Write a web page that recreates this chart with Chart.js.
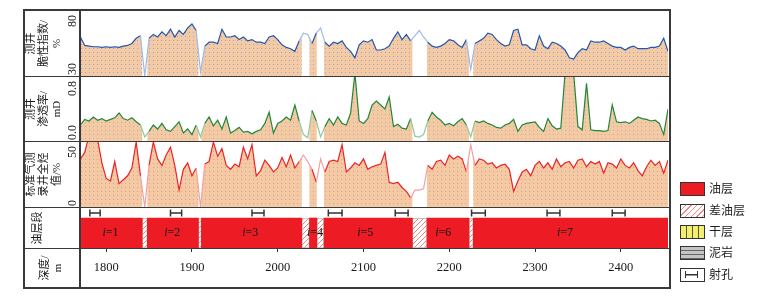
<!DOCTYPE html>
<html>
<head>
<meta charset="utf-8">
<script src="https://cdn.jsdelivr.net/npm/chart.js@4.4.0/dist/chart.umd.min.js"></script>
<style>
body { margin: 0; background: #fff; }
#wrap { position: relative; width: 768px; height: 297px; overflow: hidden; font-family: 'Liberation Serif', 'Noto Sans CJK SC', serif; }
canvas { position: absolute; left: 24px; }
.ln { position: absolute; background: #3a3a3a; }
.lg { position: absolute; left: 680px; width: 25px; height: 14px; border: 1.5px solid #333; box-sizing: border-box; }
.lt { position: absolute; left: 709px; font-size: 12px; line-height: 14px; color: #222; }
</style>
</head>
<body>
<div id="wrap">
  <canvas id="brittle" width="644" height="65" style="top:11px"></canvas>
  <canvas id="perm" width="644" height="64" style="top:77px"></canvas>
  <canvas id="gas" width="644" height="65" style="top:142px"></canvas>
  <canvas id="layers" width="644" height="80" style="top:208px"></canvas>

  <div class="ln" style="left:23px;top:9px;width:648px;height:2px"></div>
  <div class="ln" style="left:23px;top:287px;width:648px;height:2px"></div>
  <div class="ln" style="left:23px;top:9px;width:2px;height:280px"></div>
  <div class="ln" style="left:669px;top:9px;width:2px;height:280px"></div>
  <div class="ln" style="left:79px;top:9px;width:1.5px;height:280px"></div>
  <div class="ln" style="left:23px;top:75.5px;width:648px;height:1.5px"></div>
  <div class="ln" style="left:23px;top:140.5px;width:648px;height:1.5px"></div>
  <div class="ln" style="left:23px;top:206.5px;width:648px;height:1.5px"></div>
  <div class="ln" style="left:23px;top:247.5px;width:648px;height:1.5px"></div>

  <div class="lg" style="top:182px;background:#ed1c24"></div>
  <div class="lt" style="top:182px">油层</div>
  <div class="lg" style="top:204px;background:repeating-linear-gradient(135deg,#fff 0 3px,#f08a8a 3px 4px)"></div>
  <div class="lt" style="top:204px">差油层</div>
  <div class="lg" style="top:225px;background:repeating-linear-gradient(90deg,#f3ee6c 0 5px,#555 5px 6px)"></div>
  <div class="lt" style="top:225px">干层</div>
  <div class="lg" style="top:246px;background:repeating-linear-gradient(180deg,#c4c4c4 0 3px,#666 3px 4px)"></div>
  <div class="lt" style="top:246px">泥岩</div>
  <div class="lg" style="top:268px;background:#fff">
    <div style="position:absolute;left:4px;top:2px;width:11px;height:7px;border-left:1.5px solid #333;border-right:1.5px solid #333;background:linear-gradient(#333,#333) center/100% 1.5px no-repeat"></div>
  </div>
  <div class="lt" style="top:268px">射孔</div>
</div>

<script>
// depth samples (m), every 5 m
const depths = [
  1770, 1775, 1780, 1785, 1790, 1795, 1800, 1805, 1810, 1815,
  1820, 1825, 1830, 1835, 1840, 1845, 1850, 1855, 1860, 1865,
  1870, 1875, 1880, 1885, 1890, 1895, 1900, 1905, 1910, 1915,
  1920, 1925, 1930, 1935, 1940, 1945, 1950, 1955, 1960, 1965,
  1970, 1975, 1980, 1985, 1990, 1995, 2000, 2005, 2010, 2015,
  2020, 2025, 2030, 2035, 2040, 2045, 2050, 2055, 2060, 2065,
  2070, 2075, 2080, 2085, 2090, 2095, 2100, 2105, 2110, 2115,
  2120, 2125, 2130, 2135, 2140, 2145, 2150, 2155, 2160, 2165,
  2170, 2175, 2180, 2185, 2190, 2195, 2200, 2205, 2210, 2215,
  2220, 2225, 2230, 2235, 2240, 2245, 2250, 2255, 2260, 2265,
  2270, 2275, 2280, 2285, 2290, 2295, 2300, 2305, 2310, 2315,
  2320, 2325, 2330, 2335, 2340, 2345, 2350, 2355, 2360, 2365,
  2370, 2375, 2380, 2385, 2390, 2395, 2400, 2405, 2410, 2415,
  2420, 2425, 2430, 2435, 2440, 2445, 2450, 2455
];

// 测井脆性指数 (%)
const brittleness = [
  60, 53.5, 53, 52.5, 52.5, 52, 52.5, 52, 52.5, 52,
  53, 53.5, 55, 59, 61, 30, 59, 62, 60, 64,
  61, 66, 60, 65, 62, 67, 70, 65, 33, 53,
  56, 56, 55, 66, 60, 60, 61, 58, 60, 57,
  58, 56, 56, 55, 60, 61, 58, 54, 52, 51,
  49, 57, 63, 62, 55, 63, 67, 56, 53, 56,
  55, 57, 52, 49, 44, 54, 57, 56, 58, 50,
  50, 51, 53, 59, 64, 58, 62, 57, 61, 65,
  60, 56, 53, 52, 53, 55, 58, 57, 54, 52,
  58, 35, 55, 57, 59, 63, 62, 58, 55, 53,
  54, 65, 66, 54, 54, 51, 50, 61, 53, 51,
  56, 55, 53, 50, 44, 43, 48, 51, 50, 57,
  56, 56, 57, 55, 53, 52, 52, 50, 52, 53,
  51, 51, 51, 52, 52, 53, 59, 49
];

// 测井渗透率 (mD)
const permeability = [
  0.20, 0.27, 0.25, 0.30, 0.26, 0.28, 0.25, 0.27, 0.29, 0.35,
  0.28, 0.26, 0.29, 0.24, 0.20, 0.05, 0.12, 0.20, 0.15, 0.22,
  0.14, 0.12, 0.18, 0.24, 0.10, 0.15, 0.08, 0.20, 0.05, 0.22,
  0.30, 0.19, 0.26, 0.15, 0.30, 0.10, 0.13, 0.17, 0.11, 0.12,
  0.09, 0.12, 0.14, 0.22, 0.36, 0.10, 0.22, 0.25, 0.30, 0.26,
  0.45, 0.25, 0.08, 0.04, 0.38, 0.25, 0.05, 0.18, 0.28, 0.20,
  0.30, 0.22, 0.20, 0.35, 0.85, 0.25, 0.22, 0.28, 0.45, 0.50,
  0.45, 0.40, 0.55, 0.18, 0.21, 0.16, 0.15, 0.28, 0.06, 0.05,
  0.08, 0.25, 0.36, 0.30, 0.26, 0.20, 0.22, 0.19, 0.24, 0.28,
  0.20, 0.05, 0.25, 0.23, 0.25, 0.22, 0.20, 0.17, 0.16, 0.20,
  0.22, 0.27, 0.12, 0.20, 0.22, 0.23, 0.24, 0.17, 0.12, 0.28,
  0.19, 0.15, 0.16, 0.85, 0.85, 0.85, 0.18, 0.14, 0.72, 0.14,
  0.13, 0.13, 0.12, 0.13, 0.45, 0.24, 0.23, 0.24, 0.22, 0.26,
  0.30, 0.28, 0.27, 0.25, 0.26, 0.22, 0.08, 0.40
];

// 标准气测录井全烃值 (%)
const totalGas = [
  37, 42, 55, 55, 52, 34, 22, 20, 35, 18,
  21, 24, 30, 50, 24, 0, 32, 50, 37, 32,
  40, 46, 32, 13, 29, 34, 24, 30, 0, 33,
  35, 50, 39, 45, 32, 29, 33, 31, 46, 37,
  48, 24, 28, 36, 32, 27, 30, 38, 31, 40,
  30, 35, 40, 35, 29, 19, 37, 27, 35, 36,
  35, 48, 27, 30, 34, 32, 37, 29, 31, 32,
  33, 42, 19, 18, 19, 15, 12, 7, 13, 13,
  14, 32, 29, 35, 36, 32, 40, 37, 39, 37,
  27, 48, 32, 37, 36, 33, 34, 30, 32, 33,
  29, 12, 20, 27, 29, 24, 32, 35, 30, 34,
  29, 37, 31, 34, 35, 30, 36, 37, 31, 35,
  33, 35, 26, 34, 33, 30, 37, 32, 30, 34,
  28, 24, 31, 36, 32, 35, 26, 36
];

// 油层 / 差油层 intervals (m)
const oilLayers = [[1769.5, 1842], [1848, 1907.6], [1911, 2028], [2037, 2045.6], [2054, 2157], [2174, 2223], [2228, 2455]];
const poorLayers = [[1842, 1848], [1907.6, 1911], [2028, 2037], [2045.6, 2054], [2157, 2174], [2223, 2228]];
// 射孔 intervals (m)
const perforations = [[1781, 1793], [1875, 1888], [1970, 1984], [2059, 2075], [2137, 2152], [2226, 2242], [2314, 2329], [2390, 2405]];
const layerNames = ['1', '2', '3', '4', '5', '6', '7'];
const layerLabelDepths = [1805, 1877, 1968, 2043.5, 2102, 2193, 2335];
const depthTicks = [1800, 1900, 2000, 2100, 2200, 2300, 2400];

const X_MIN = 1769.5, X_MAX = 2455;
const FONT = "'Liberation Serif', 'Noto Sans CJK SC', serif";
const BAR_Y = 0.375, PERF_Y = 0.875;

function dotPattern(dot) {
    var c = document.createElement('canvas');
    c.width = 4; c.height = 4;
    var g = c.getContext('2d');
    g.fillStyle = '#f4caa4';
    g.fillRect(0, 0, 4, 4);
    g.fillStyle = dot;
    g.fillRect(1, 1, 1, 1);
    return g.createPattern(c, 'repeat');
}

function hatchPattern() {
    var s = 5;
    var c = document.createElement('canvas');
    c.width = s; c.height = s;
    var g = c.getContext('2d');
    g.fillStyle = '#fff';
    g.fillRect(0, 0, s, s);
    g.strokeStyle = '#f07f7f';
    g.lineWidth = 1;
    g.beginPath();
    g.moveTo(0, s); g.lineTo(s, 0);
    g.moveTo(-1, 1); g.lineTo(1, -1);
    g.moveTo(s - 1, s + 1); g.lineTo(s + 1, s - 1);
    g.stroke();
    return g.createPattern(c, 'repeat');
}

function inPoor(a, b) {
    return poorLayers.some(function(p) { return b > p[0] && a < p[1]; });
}

// white out the fill over the poor-oil intervals, before the curve is drawn
const poorMask = {
    id: 'poorMask',
    afterDatasetDraw(chart, args) {
        if (args.index !== 1) return;
        const ctx = chart.ctx, a = chart.chartArea, x = chart.scales.x;
        ctx.save();
        ctx.fillStyle = '#fff';
        poorLayers.forEach(function(p) {
            const x0 = x.getPixelForValue(p[0]), x1 = x.getPixelForValue(p[1]);
            ctx.fillRect(x0, a.top, x1 - x0, a.bottom - a.top);
        });
        ctx.restore();
    }
};

// rotated titles and end tick labels in the left column
function sideText(blocks, ticks) {
    return {
        id: 'sideText',
        afterDraw(chart) {
            const ctx = chart.ctx, a = chart.chartArea, y = chart.scales.y;
            ctx.save();
            ctx.fillStyle = '#1a1a1a';
            ctx.textBaseline = 'middle';
            ctx.font = '11px ' + FONT;
            blocks.forEach(function(b) {
                const cy = b.cy(a);
                b.lines.forEach(function(t, i) {
                    ctx.save();
                    ctx.translate(b.cx + (i - (b.lines.length - 1) / 2) * 13, cy);
                    ctx.rotate(-Math.PI / 2);
                    ctx.textAlign = 'center';
                    ctx.fillText(t, 0, 0);
                    ctx.restore();
                });
            });
            ctx.font = '12px ' + FONT;
            ticks.forEach(function(t) {
                const py = y.getPixelForValue(t[0]);
                const atTop = t[0] === y.max;
                ctx.save();
                ctx.translate(48.5, atTop ? py + 4 : py - 1);
                ctx.rotate(-Math.PI / 2);
                ctx.textAlign = atTop ? 'right' : 'left';
                ctx.fillText(t[1], 0, 0);
                ctx.restore();
            });
            ctx.restore();
        }
    };
}

const midY = function(a) { return (a.top + a.bottom) / 2; };

function curveChart(id, values, yMin, yMax, ticks, lines, colors) {
    const pts = depths.map(function(d, i) { return {x: d, y: values[i]}; });
    return new Chart(document.getElementById(id), {
        type: 'line',
        data: {
            datasets: [{
                data: pts,
                borderColor: colors.line,
                borderWidth: 1.2,
                pointRadius: 0,
                fill: false,
                order: 1,
                segment: {
                    borderColor: function(c) { return inPoor(c.p0.parsed.x, c.p1.parsed.x) ? colors.light : colors.line; }
                }
            }, {
                data: pts,
                borderWidth: 0,
                pointRadius: 0,
                fill: 'start',
                backgroundColor: dotPattern(colors.dot),
                order: 2
            }]
        },
        options: {
            responsive: false,
            animation: false,
            events: [],
            layout: { autoPadding: false, padding: { left: 56, right: 0, top: 0, bottom: 0 } },
            plugins: { legend: { display: false }, tooltip: { enabled: false } },
            scales: {
                x: { type: 'linear', min: X_MIN, max: X_MAX, display: false },
                y: { type: 'linear', min: yMin, max: yMax, display: false }
            }
        },
        plugins: [poorMask, sideText([{ lines: lines, cx: 20, cy: midY }], ticks)]
    });
}

curveChart('brittle', brittleness, 30, 80, [[80, '80'], [30, '30']], ['测井', '脆性指数/', '%'],
    { line: '#2356b0', light: '#9dbbe6', dot: '#9aa6cf' });
curveChart('perm', permeability, 0, 0.8, [[0.8, '0.8'], [0, '0.0']], ['测井', '渗透率/', 'mD'],
    { line: '#23873a', light: '#93c99c', dot: '#c9a9a0' });
curveChart('gas', totalGas, 0, 50, [[50, '50'], [0, '0']], ['标准气测', '录井全烃', '值/%'],
    { line: '#ec2424', light: '#f5a0a0', dot: '#e59a94' });

// italic "i" followed by "=n" inside each oil layer
const layerText = {
    id: 'layerText',
    afterDatasetsDraw(chart) {
        const ctx = chart.ctx, x = chart.scales.x, y = chart.scales.y;
        const py = y.getPixelForValue(BAR_Y);
        ctx.save();
        ctx.fillStyle = '#111';
        ctx.textBaseline = 'middle';
        ctx.textAlign = 'left';
        layerNames.forEach(function(n, i) {
            const px = x.getPixelForValue(layerLabelDepths[i]);
            ctx.font = 'italic 12px ' + FONT;
            const wi = ctx.measureText('i').width;
            ctx.font = '12px ' + FONT;
            const rest = '=' + n;
            const wr = ctx.measureText(rest).width;
            const x0 = px - (wi + wr) / 2;
            ctx.font = 'italic 12px ' + FONT;
            ctx.fillText('i', x0, py);
            ctx.font = '12px ' + FONT;
            ctx.fillText(rest, x0 + wi, py);
        });
        ctx.restore();
    }
};

const perfPoints = [];
perforations.forEach(function(p) {
    perfPoints.push({x: p[0], y: PERF_Y}, {x: p[1], y: PERF_Y}, {x: p[1], y: null});
});

new Chart(document.getElementById('layers'), {
    type: 'bar',
    data: {
        datasets: [{
            label: '射孔',
            type: 'line',
            data: perfPoints,
            borderColor: '#333',
            borderWidth: 1.5,
            pointStyle: 'line',
            pointRotation: 90,
            pointRadius: 3.5,
            pointBorderColor: '#333',
            pointBorderWidth: 1.5,
            spanGaps: false,
            fill: false
        }, {
            label: '油层',
            indexAxis: 'y',
            grouped: false,
            data: oilLayers.map(function(l) { return {x: l, y: BAR_Y}; }),
            backgroundColor: '#ed1c24',
            borderWidth: 0,
            barThickness: 30
        }, {
            label: '差油层',
            indexAxis: 'y',
            grouped: false,
            data: poorLayers.map(function(l) { return {x: l, y: BAR_Y}; }),
            backgroundColor: hatchPattern(),
            borderColor: '#c9b5b5',
            borderWidth: 1,
            borderSkipped: false,
            barThickness: 30
        }]
    },
    options: {
        responsive: false,
        animation: false,
        events: [],
        layout: { autoPadding: false, padding: { left: 56, right: 0, top: 0, bottom: 0 } },
        plugins: { legend: { display: false }, tooltip: { enabled: false } },
        scales: {
            x: {
                type: 'linear', min: X_MIN, max: X_MAX, position: 'bottom', offset: false,
                afterBuildTicks: function(s) { s.ticks = depthTicks.map(function(v) { return {value: v}; }); },
                afterFit: function(s) { s.height = 40; },
                grid: { offset: false, drawOnChartArea: false, drawTicks: true, tickLength: 4, color: '#333', lineWidth: 1 },
                border: { display: false },
                ticks: { padding: 8, autoSkip: false, maxRotation: 0, color: '#1a1a1a',
                    font: { family: FONT, size: 12.5 }, callback: function(v) { return String(v); } }
            },
            y: { type: 'linear', min: 0, max: 1, display: false, offset: false, grid: { offset: false } }
        }
    },
    plugins: [layerText, sideText([
        { lines: ['油层段'], cx: 14, cy: midY },
        { lines: ['深度/', 'm'], cx: 28, cy: function(a) { return a.bottom + 20; } }
    ], [])]
});
</script>
</body>
</html>
